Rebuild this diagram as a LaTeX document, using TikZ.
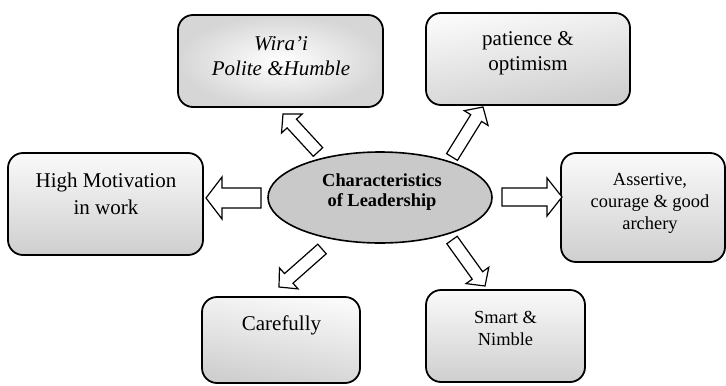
\documentclass[tikz,border=0pt]{standalone}
\usepackage{fontspec}
\setmainfont{Liberation Serif}
\usetikzlibrary{shapes.geometric,calc}
\tikzset{
  cbox/.style={draw=black, line width=0.9pt, rounded corners=7.5pt, rectangle, inner sep=0pt,
     top color=gray!4, bottom color=gray!38},
  wbox/.style={draw=black, line width=0.9pt, rounded corners=7.5pt, rectangle, inner sep=0pt,
     inner color=white, outer color=gray!32},
  hub/.style={draw=black, line width=0.8pt, ellipse, fill=gray!42, inner sep=0pt},
  txt/.style={align=center, inner sep=0pt, font=\fontsize{10.5}{12.5}\selectfont},
  stxt/.style={align=center, inner sep=0pt, font=\fontsize{9.2}{11}\selectfont},
  barrow/.style={draw=black, fill=white, line width=0.6pt, line join=miter},
}
\newcommand\blockarrow[5]{% #1 tail, #2 tip, #3 shaft half, #4 head half, #5 head length
  \coordinate (#2-hb) at ($(#2)!#5!(#1)$);
  \draw[barrow] ($(#1)!#3!90:(#2)$) -- ($(#2-hb)!#3!90:(#2)$) -- ($(#2-hb)!#4!90:(#2)$)
    -- (#2) -- ($(#2-hb)!#4!-90:(#2)$) -- ($(#2-hb)!#3!-90:(#2)$) -- ($(#1)!#3!-90:(#2)$) -- cycle;
}
\begin{document}
\begin{tikzpicture}[x=0.5pt,y=-0.5pt]
\useasboundingbox (0,0) rectangle (726,385);
% boxes
\node[wbox, minimum width=102.5pt, minimum height=46pt] (W) at (280.5,61) {};
\node[cbox, minimum width=102pt, minimum height=46pt, shading angle=10] (P) at (528,59) {};
\node[cbox, minimum width=97.5pt, minimum height=51pt] (H) at (105.5,204) {};
\node[cbox, minimum width=82pt, minimum height=54.5pt] (A) at (643,207.5) {};
\node[cbox, minimum width=79pt, minimum height=43pt, shading angle=-10] (C) at (281,340) {};
\node[cbox, minimum width=79.5pt, minimum height=46pt] (S) at (505.5,336) {};
% hub
\node[hub, minimum width=112pt, minimum height=45.5pt] (E) at (380,197.5) {};
% texts
\node[txt] (Wt) at (281,56) {\itshape Wira'i\\\itshape Polite \&Humble};
\node[txt] (Pt) at (528,53) {patience \&\\optimism};
\node[txt, font=\fontsize{10.5}{13.5}\selectfont] (Ht) at (106,194) {High Motivation\\in work};
\node[stxt] (At) at (650,203) {Assertive,\\courage \& good\\archery};
\node[txt] (Ct) at (281.5,325) {Carefully};
\node[stxt] (St) at (505.5,328) {Smart \&\\Nimble};
\node[align=center, inner sep=0pt, font=\fontsize{9.2}{10}\bfseries\selectfont] (Et) at (382,192) {Characteristics\\of Leadership};
% arrow end points
\coordinate (aW0) at (318,152); \coordinate (aW) at (283,114);
\coordinate (aP0) at (452,157); \coordinate (aP) at (483,107);
\coordinate (aH0) at (261,198); \coordinate (aH) at (206,198);
\coordinate (aA0) at (502,197); \coordinate (aA) at (562,197);
\coordinate (aC0) at (322,249); \coordinate (aC) at (279,287);
\coordinate (aS0) at (452,240); \coordinate (aS) at (485,286);
\blockarrow{aW0}{aW}{3.2pt}{7pt}{6.5pt}
\blockarrow{aP0}{aP}{3.2pt}{7pt}{6.5pt}
\blockarrow{aH0}{aH}{5pt}{10.5pt}{8pt}
\blockarrow{aA0}{aA}{4.5pt}{9.5pt}{7.5pt}
\blockarrow{aC0}{aC}{3.2pt}{7pt}{6.5pt}
\blockarrow{aS0}{aS}{3.2pt}{7pt}{6.5pt}
\end{tikzpicture}
\end{document}
